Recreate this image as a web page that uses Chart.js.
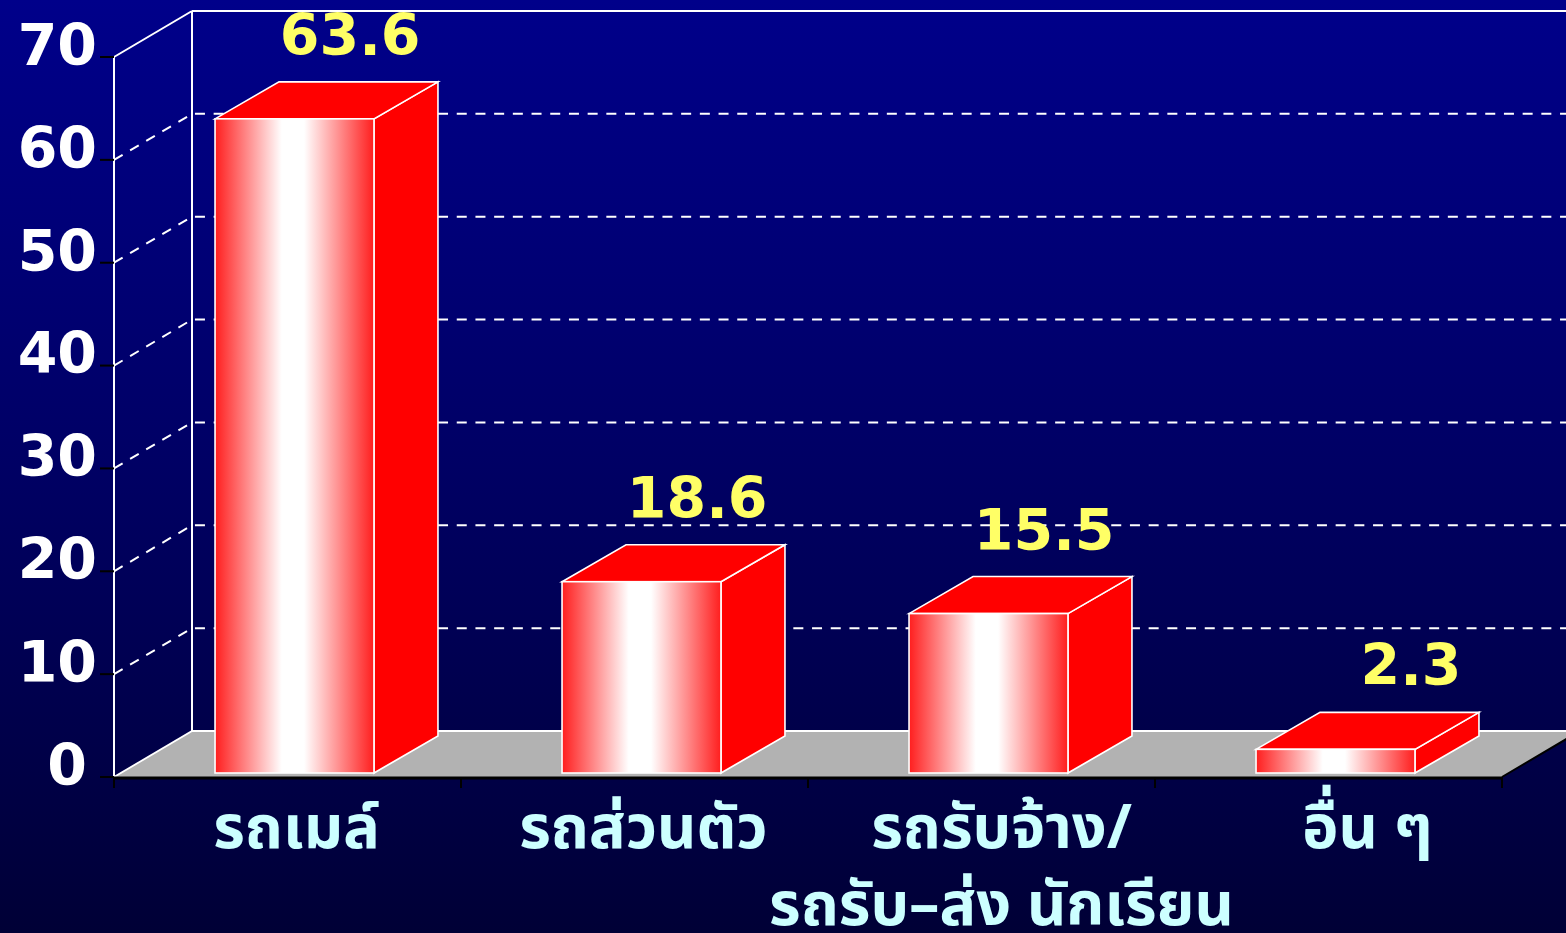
<!DOCTYPE html>
<html>
<head>
<meta charset="utf-8">
<script src="https://cdn.jsdelivr.net/npm/chart.js@4"></script>
<style>
  html, body { margin: 0; padding: 0; width: 1566px; height: 933px; overflow: hidden;
    background: linear-gradient(to bottom, #00008a 0%, #000064 50%, #000036 100%); }
  #wrap { position: absolute; left: 0; top: 0; width: 1566px; height: 933px; }
</style>
</head>
<body>
<div id="wrap"><canvas id="c"></canvas></div>
<script>
const categories = ['รถเมล์', 'รถส่วนตัว', ['รถรับจ้าง/', 'รถรับ–ส่ง นักเรียน'], 'อื่น ๆ'];
const values = [63.6, 18.6, 15.5, 2.3];
const valueLabels = ['63.6', '18.6', '15.5', '2.3'];
const yTicks = [0, 10, 20, 30, 40, 50, 60, 70];

const WALL = { dx: 78, dy: -46 };
const SHIFT = { dx: 7, dy: -4 };
const BAR = { dx: 64, dy: -37 };
const LABEL_NUDGE = [2, 2, 13, 32];
const NUM_FONT = 'bold 57px "DejaVu Sans", Verdana, sans-serif';
const THAI_FONT = 'bold 61px Tahoma, "Noto Sans Thai", "Noto Sans Thai UI", "Loma", "Garuda", "DejaVu Sans", sans-serif';

function poly(ctx, pts) {
  ctx.beginPath();
  ctx.moveTo(pts[0][0], pts[0][1]);
  for (let i = 1; i < pts.length; i++) ctx.lineTo(pts[i][0], pts[i][1]);
  ctx.closePath();
}
function line(ctx, x0, y0, x1, y1) {
  ctx.beginPath(); ctx.moveTo(x0, y0); ctx.lineTo(x1, y1); ctx.stroke();
}

const box3d = {
  id: 'box3d',
  beforeDatasetsDraw(chart) {
    const ctx = chart.ctx;
    const { left, right, top, bottom } = chart.chartArea;
    const y = chart.scales.y, x = chart.scales.x;
    const W = chart.width;
    ctx.save();
    // floor
    ctx.fillStyle = '#b2b2b2';
    poly(ctx, [[left, bottom], [right, bottom], [right + WALL.dx, bottom + WALL.dy], [left + WALL.dx, bottom + WALL.dy]]);
    ctx.fill();
    // dashed grid
    ctx.strokeStyle = '#ffffff';
    ctx.lineWidth = 2;
    ctx.setLineDash([10, 8.7]);
    yTicks.forEach(v => {
      if (v === 0 || v === 70) return;
      const yy = y.getPixelForValue(v);
      ctx.beginPath();
      ctx.moveTo(left, yy);
      ctx.lineTo(left + WALL.dx, yy + WALL.dy);
      ctx.lineTo(W, yy + WALL.dy);
      ctx.stroke();
    });
    ctx.setLineDash([]);
    // solid wall edges
    ctx.lineWidth = 2;
    line(ctx, left, top, left, bottom);
    line(ctx, left, top, left + WALL.dx, top + WALL.dy);
    line(ctx, left + WALL.dx, top + WALL.dy, left + WALL.dx, bottom + WALL.dy);
    line(ctx, left + WALL.dx, top + WALL.dy, W, top + WALL.dy);
    line(ctx, left, bottom, left + WALL.dx, bottom + WALL.dy);
    line(ctx, left + WALL.dx, bottom + WALL.dy, W, bottom + WALL.dy);
    // black front edges
    ctx.strokeStyle = '#000000';
    ctx.lineWidth = 3;
    line(ctx, left, bottom + 1, right, bottom + 1);
    ctx.lineWidth = 2;
    line(ctx, right, bottom, right + WALL.dx, bottom + WALL.dy);
    // y ticks
    yTicks.forEach(v => {
      const yy = y.getPixelForValue(v);
      line(ctx, left - 14, yy, left, yy);
    });
    // x ticks at category boundaries
    const cw = (right - left) / categories.length;
    for (let i = 0; i <= categories.length; i++) {
      const xx = i < categories.length ? x.getPixelForValue(i) - cw / 2 : x.getPixelForValue(i - 1) + cw / 2;
      line(ctx, xx, bottom, xx, bottom + 11);
    }
    // y labels
    ctx.fillStyle = '#ffffff';
    ctx.font = NUM_FONT;
    ctx.textAlign = 'right';
    ctx.textBaseline = 'middle';
    yTicks.forEach(v => {
      ctx.fillText(String(v), left - 17 - (v === 0 ? 10 : 0), y.getPixelForValue(v) - 7);
    });
    ctx.restore();
  },
  afterDatasetsDraw(chart) {
    const ctx = chart.ctx;
    const { bottom } = chart.chartArea;
    const meta = chart.getDatasetMeta(0);
    ctx.save();
    meta.data.forEach((el, i) => {
      const p = el.getProps(['x', 'y', 'base', 'width'], true);
      const x0 = p.x - p.width / 2 + SHIFT.dx, x1 = p.x + p.width / 2 + SHIFT.dx;
      const yt = p.y + SHIFT.dy, yb = p.base + SHIFT.dy;
      // side
      ctx.fillStyle = '#ff0000';
      poly(ctx, [[x1, yt], [x1 + BAR.dx, yt + BAR.dy], [x1 + BAR.dx, yb + BAR.dy], [x1, yb]]);
      ctx.fill();
      ctx.strokeStyle = '#ffffff'; ctx.lineWidth = 1.6; ctx.stroke();
      // top
      poly(ctx, [[x0, yt], [x0 + BAR.dx, yt + BAR.dy], [x1 + BAR.dx, yt + BAR.dy], [x1, yt]]);
      ctx.fill(); ctx.stroke();
      // front
      const g = ctx.createLinearGradient(x0, 0, x1, 0);
      g.addColorStop(0, '#ff1e1e');
      g.addColorStop(0.42, '#ffffff');
      g.addColorStop(0.56, '#ffffff');
      g.addColorStop(1, '#ff1e1e');
      ctx.fillStyle = g;
      ctx.fillRect(x0, yt, x1 - x0, yb - yt);
      ctx.strokeRect(x0, yt, x1 - x0, yb - yt);
      // value label
      ctx.fillStyle = '#ffff66';
      ctx.font = NUM_FONT;
      ctx.textAlign = 'right';
      ctx.textBaseline = 'alphabetic';
      ctx.fillText(valueLabels[i], p.x + SHIFT.dx + 126, yt - 64);
      // category label
      ctx.fillStyle = '#ccffff';
      ctx.font = THAI_FONT;
      ctx.textAlign = 'center';
      const lbl = Array.isArray(categories[i]) ? categories[i] : [categories[i]];
      lbl.forEach((t, k) => ctx.fillText(t, p.x + SHIFT.dx + LABEL_NUDGE[i], bottom + 71 + k * 77));
    });
    ctx.restore();
  }
};

new Chart(document.getElementById('c'), {
  type: 'bar',
  data: {
    labels: categories,
    datasets: [{
      data: values,
      backgroundColor: 'rgba(0,0,0,0)',
      borderWidth: 0,
      barPercentage: 0.458,
      categoryPercentage: 1
    }]
  },
  options: {
    responsive: true,
    maintainAspectRatio: false,
    animation: false,
    layout: { padding: { left: 114, right: 64, top: 57, bottom: 156 } },
    plugins: { legend: { display: false }, tooltip: { enabled: false } },
    scales: {
      x: { type: 'category', offset: true, display: false },
      y: { min: 0, max: 70, display: false, ticks: { stepSize: 10 } }
    }
  },
  plugins: [box3d]
});
</script>
</body>
</html>
